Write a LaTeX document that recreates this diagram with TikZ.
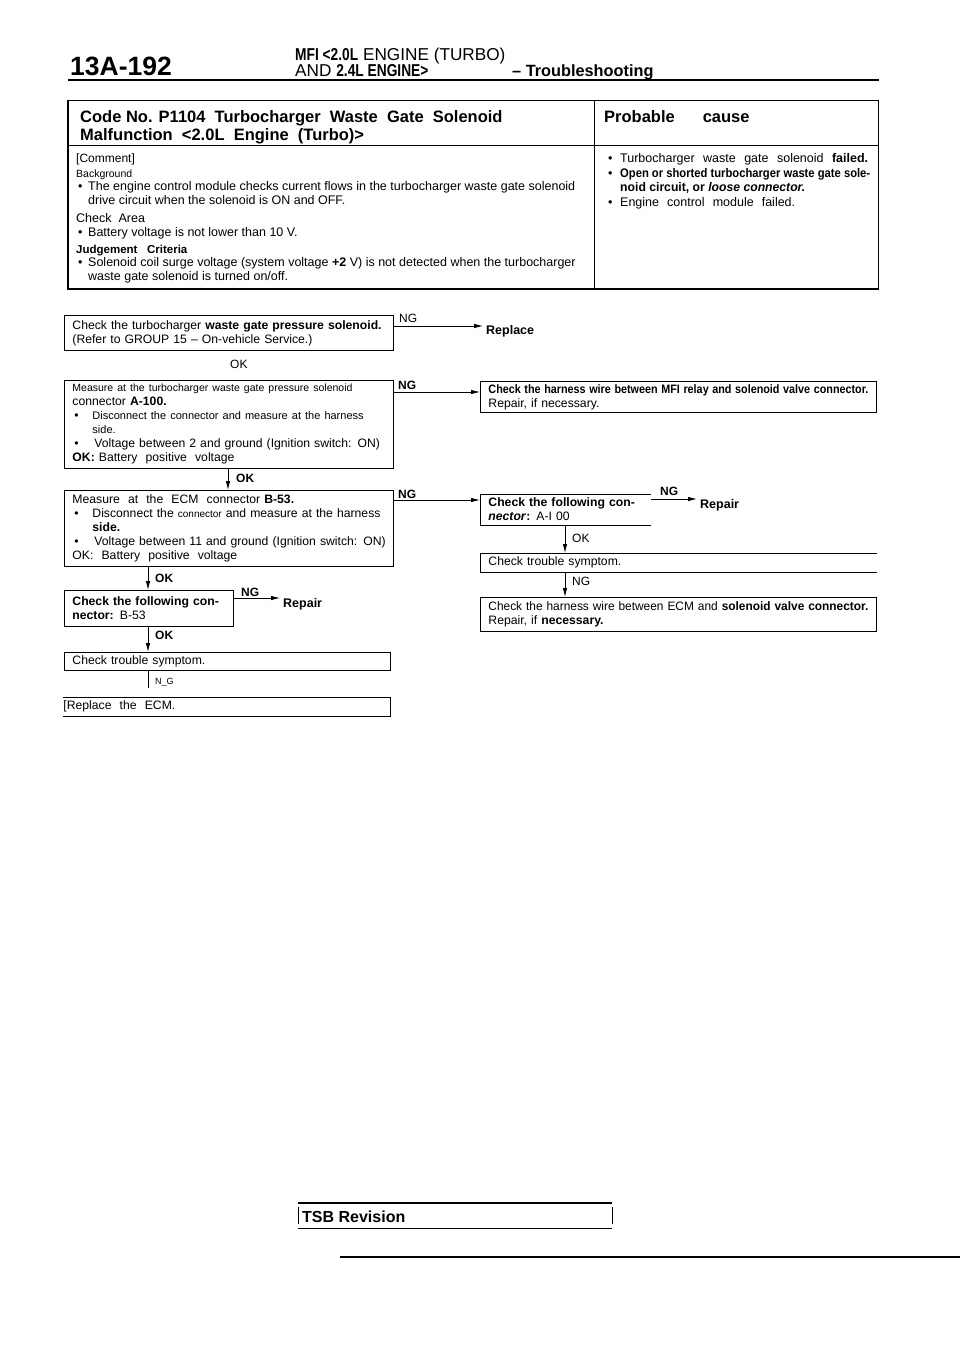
\documentclass[tikz,border=0pt]{standalone}
\usepackage{fontspec}
\usepackage{graphicx}
\setmainfont{Liberation Sans}
\newfontfamily\cnd{Liberation Sans}[FakeStretch=0.8]
\usetikzlibrary{arrows.meta}
\newcommand\fsz[2]{\fontsize{#1}{#2}\selectfont}
\newcommand\fitw[2]{\resizebox{#1}{\height}{#2}}
\newcommand\bul[1]{\makebox[#1][l]{\hspace{2pt}\textbullet}}
\begin{document}
\begin{tikzpicture}[x=1pt,y=-1pt,
  box/.style={draw, line width=0.9pt, anchor=north west, inner xsep=8pt, inner ysep=0pt, align=left, font=\fsz{12.2}{14}},
  obox/.style={box, draw=none},
  txt/.style={anchor=base west, inner sep=0pt, font=\fsz{12.5}{14}},
  lbl/.style={anchor=base west, inner sep=0pt, font=\fsz{12}{14}},
  blbl/.style={anchor=base west, inner sep=0pt, font=\bfseries\fsz{12}{14}},
  arr/.style={line width=0.8pt, -{Latex[length=9pt,width=4.5pt]}},
  ln/.style={line width=0.8pt}]
\fill[white] (0,0) rectangle (960,1358);
\useasboundingbox (0,0) rectangle (960,1358);

% ---------- page header ----------
\node[anchor=base west, inner sep=0pt, font=\bfseries\fsz{26.5}{26.5}] (pg) at (70,75) {13A-192};
\node[anchor=base west, inner sep=0pt, font=\fsz{17.2}{17}] (h1) at (295,60) {{\cnd\bfseries MFI <2.0L} ENGINE (TURBO)};
\node[anchor=base west, inner sep=0pt, font=\fsz{17.2}{17}] (h2) at (295,76) {AND {\cnd\bfseries 2.4L ENGINE>}};
\node[anchor=base west, inner sep=0pt, font=\bfseries\fsz{16.3}{16}] (h3) at (512,76) {\textendash\ Troubleshooting};
\coordinate (rl) at (68,80);
\coordinate (rr) at (879,80);
\draw[line width=2pt] (rl) -- (rr);

% ---------- table ----------
\node[draw, line width=1.3pt, anchor=north west, inner sep=0pt, minimum width=810pt, minimum height=188pt] (tbl) at (68,100) {};
\draw[line width=2.2pt] (tbl.north west) -- (tbl.south west) -- (tbl.south east);
\draw[line width=0.9pt] (tbl.west |- 0,145) -- (tbl.east |- 0,145);
\draw[line width=1pt] (tbl.north -| 594,0) -- (tbl.south -| 594,0);

\node[anchor=base west, inner sep=0pt, font=\bfseries\fsz{16.5}{18}] (t1) at (80,122) {Code No. P1104\ \ Turbocharger\ \ Waste\ \ Gate\ \ Solenoid};
\node[anchor=base west, inner sep=0pt, font=\bfseries\fsz{16.5}{18}] (t2) at (80,140) {Malfunction\ \ <2.0L\ \ Engine\ \ (Turbo)>};
\node[anchor=base west, inner sep=0pt, font=\bfseries\fsz{16.5}{18}] (t3) at (604,122) {Probable\hspace{28pt}cause};

\node[txt, font=\fsz{12}{14}] (c1) at (76,162) {[Comment]};
\node[txt, font=\fsz{10.5}{14}] (c2) at (76,177) {Background};
\node[txt] (c3) at (76,190) {\bul{12pt}The engine control module checks current flows in the turbocharger waste gate solenoid};
\node[txt] (c4) at (88,204) {drive circuit when the solenoid is ON and OFF.};
\node[txt] (c5) at (76,222) {Check\ \ Area};
\node[txt] (c6) at (76,236) {\bul{12pt}Battery voltage is not lower than 10 V.};
\node[txt, font=\bfseries\fsz{11.5}{14}] (c7) at (76,253) {Judgement\ \ \ Criteria};
\node[txt] (c8) at (76,266) {\bul{12pt}Solenoid coil surge voltage (system voltage \textbf{+2} V) is not detected when the turbocharger};
\node[txt] (c9) at (88,280) {waste gate solenoid is turned on/off.};

\node[txt] (r1) at (606,162) {\bul{14pt}\makebox[248pt][s]{Turbocharger waste gate solenoid \textbf{failed.}}};
\node[txt] (r2) at (606,177) {\bul{14pt}\fitw{250pt}{\bfseries Open or shorted turbocharger waste gate sole-}};
\node[txt] (r3) at (620,191) {\fitw{185pt}{\bfseries noid circuit, or \itshape loose connector.}};
\node[txt] (r4) at (606,206) {\bul{14pt}\makebox[175pt][s]{Engine control module failed.}};

% ---------- flow: left column ----------
\node[box, minimum width=329pt, minimum height=35pt, text width=313pt] (b1) at (64,315)
  {\makebox[\hsize][s]{Check the turbocharger \textbf{waste gate pressure solenoid.}}\\
   (Refer to GROUP 15 \textendash{} On-vehicle Service.)};
\node[lbl] (ok1) at (230,368) {OK};

\node[box, minimum width=329pt, minimum height=88pt, text width=313pt] (b2) at (64,380)
  {\makebox[\hsize][s]{\fsz{10.5}{14}Measure at the turbocharger waste gate pressure solenoid}\\
   connector \textbf{A-100.}\\
   \bul{20pt}\makebox[\dimexpr\hsize-20pt\relax][s]{\fsz{11}{14}Disconnect the connector and measure at the harness}\\
   \hspace*{20pt}{\fsz{11}{14}side.}\\
   \bul{22pt}\makebox[\dimexpr\hsize-22pt\relax][s]{Voltage between 2 and ground (Ignition switch: ON)}\\
   \textbf{OK:} Battery\ \ positive\ \ voltage};

\node[box, minimum width=329pt, minimum height=76pt, text width=313pt] (b4) at (64,490)
  {Measure\ \ at\ \ the\ \ ECM\ \ connector \textbf{B-53.}\\
   \bul{20pt}\makebox[\dimexpr\hsize-20pt\relax][s]{Disconnect the {\fsz{10}{14}connector} and measure at the harness}\\
   \hspace*{20pt}\textbf{side.}\\
   \bul{22pt}\makebox[\dimexpr\hsize-22pt\relax][s]{Voltage between 11 and ground (Ignition switch: ON)}\\
   OK:\ \ Battery\ \ positive\ \ voltage};

\node[box, minimum width=169pt, minimum height=36pt, text width=153pt] (b8) at (64,590)
  {\makebox[\hsize][s]{\bfseries Check the following con-}\\
   \textbf{nector:} B-53};
\node[anchor=west, inner sep=0pt, font=\bfseries\fsz{12.5}{14}] (rp3) at (283,604) {Repair};

\node[box, minimum width=326pt, minimum height=18pt, text width=310pt] (b9) at (64,652) {Check trouble symptom.};
\node[obox, inner xsep=0pt, minimum width=326pt, minimum height=18pt, text width=326pt] (b10) at (63,697) {[Replace\ \ the\ \ ECM.};
\draw[ln] (b10.north west) -- (b10.north east) -- (b10.south east) -- (b10.south west);

% ---------- flow: right column ----------
\node[anchor=west, inner sep=0pt, font=\bfseries\fsz{12.5}{14}] (rp1) at (486,331) {Replace};

\node[box, minimum width=396pt, minimum height=31pt, text width=380pt] (b3) at (480,381)
  {\fitw{\hsize}{\bfseries Check the harness wire between MFI relay and solenoid valve connector.}\\
   Repair, if necessary.};

\node[obox, minimum width=170pt, minimum height=30pt, text width=154pt] (b5) at (480,494)
  {\makebox[\hsize][s]{\bfseries Check the following con-}\\
   \textbf{\textit{nector}:} A-I 00};
\draw[ln] (b5.north east) -- (b5.north west) -- (b5.south west) -- (b5.south east);
\node[anchor=west, inner sep=0pt, font=\bfseries\fsz{12.5}{14}] (rp2) at (700,505) {Repair};

\node[obox, minimum width=396pt, minimum height=18pt, text width=380pt] (b6) at (480,553) {Check trouble symptom.};
\draw[ln] (b6.north east) -- (b6.north west) -- (b6.south west) -- (b6.south east);

\node[box, minimum width=396pt, minimum height=34pt, text width=380pt] (b7) at (480,597)
  {\fitw{\hsize}{Check the harness wire between ECM and \textbf{solenoid valve connector.}}\\
   Repair, if \textbf{necessary.}};

% ---------- connectors ----------
\draw[arr] (b1.east |- 0,326) -- ([xshift=-3pt]rp1.west |- 0,326);
\node[lbl] (ng1) at (399,322) {NG};

\draw[arr] (b2.east |- 0,392) -- (b3.west |- 0,392);
\node[blbl] (ng2) at (398,389) {NG};

\draw[arr] (b2.south -| 228,0) -- (b4.north -| 228,0);
\node[blbl] (ok2) at (236,482) {OK};

\draw[arr] (b4.east |- 0,500) -- (b5.west |- 0,500);
\node[blbl] (ng3) at (398,498) {NG};

\draw[arr] (b5.east |- 0,499) -- ([xshift=-3pt]rp2.west |- 0,499);
\node[blbl] (ng4) at (660,495) {NG};

\draw[arr] (b5.south -| 565,0) -- (b6.north -| 565,0);
\node[lbl] (ok3) at (572,542) {OK};

\draw[arr] (b6.south -| 565,0) -- (b7.north -| 565,0);
\node[lbl] (ng5) at (572,585) {NG};

\draw[arr] (b4.south -| 148,0) -- (b8.north -| 148,0);
\node[blbl] (ok4) at (155,582) {OK};

\draw[arr] (b8.east |- 0,598) -- ([xshift=-3pt]rp3.west |- 0,598);
\node[blbl] (ng6) at (241,596) {NG};

\draw[arr] (b8.south -| 148,0) -- (b9.north -| 148,0);
\node[blbl] (ok5) at (155,639) {OK};

\draw[ln, shorten >=9pt] (b9.south -| 148,0) -- (b10.north -| 148,0);
\node[anchor=base west, inner sep=0pt, font=\fsz{9}{10}] (ng7) at (155,684) {N\_G};

% ---------- footer ----------
\node[anchor=north west, inner sep=0pt, minimum width=314pt, minimum height=25pt] (tsb) at (298,1203) {};
\draw[line width=1.6pt] (tsb.north west) -- (tsb.north east);
\draw[line width=1.6pt] (tsb.south west) -- (tsb.south east);
\draw[line width=0.6pt] ([yshift=-4pt]tsb.north west) -- ([yshift=4pt]tsb.south west);
\draw[line width=0.6pt] ([yshift=-4pt]tsb.north east) -- ([yshift=4pt]tsb.south east);
\node[anchor=base west, inner sep=0pt, font=\bfseries\fsz{16}{16}] (tsbt) at (302,1222) {TSB Revision};
\coordinate (fl) at (340,1257);
\coordinate (fr) at (960,1257);
\draw[line width=1.5pt] (fl) -- (fr);
\end{tikzpicture}
\end{document}
